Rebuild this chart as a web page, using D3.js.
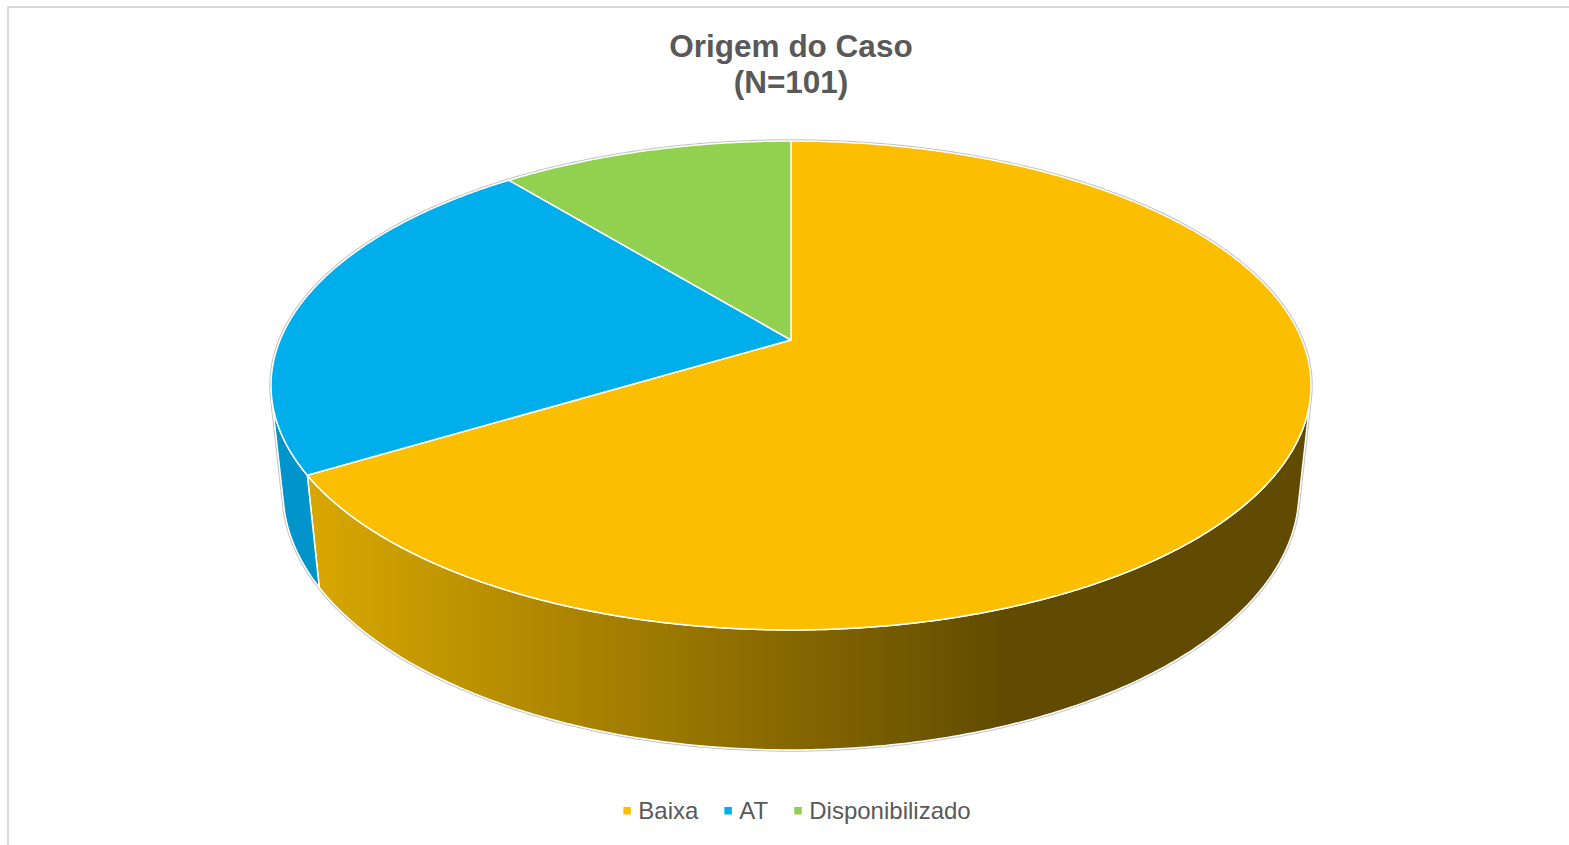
<!DOCTYPE html>
<html>
<head>
<meta charset="utf-8">
<script src="https://cdn.jsdelivr.net/npm/d3@7"></script>
<style>
  html, body { margin: 0; padding: 0; background: #ffffff; }
  svg { display: block; font-family: "Liberation Sans", Arial, sans-serif; }
</style>
</head>
<body>
<svg id="chart" width="1569" height="845"></svg>
<script>
// Origem do Caso — share of cases by origin
const categories = ["Baixa", "AT", "Disponibilizado"];
const values = [67, 23, 11];
const topColors = ["#FBBE00", "#00AEEB", "#92D050"];
const sideColors = ["#D8A700", "#0094CB", "#74A83C"];
const sideDark = "#614B00";
const titleLines = ["Origem do Caso", "(N=" + d3.sum(values) + ")"];

const W = 1569, H = 845;
const svg = d3.select("#chart");

// chart area frame
svg.append("rect")
  .attr("x", 8).attr("y", 7)
  .attr("width", W + 20).attr("height", H + 20)
  .attr("fill", "#ffffff")
  .attr("stroke", "#d9d9d9")
  .attr("stroke-width", 2);

// title
const title = svg.append("text")
  .attr("text-anchor", "middle")
  .attr("fill", "#595959")
  .attr("font-weight", "bold")
  .attr("font-size", 31.5);
titleLines.forEach((line, i) => {
  title.append("tspan").attr("x", 791).attr("y", 57 + i * 36).text(line);
});

// perspective camera looking down on a unit-radius disc
const cam = { cx: 791, cy: 340, F: 2435, D: 4.766, phi: Math.asin(0.4619), depth: 0.2363 };
const sinP = Math.sin(cam.phi), cosP = Math.cos(cam.phi);

function project(a, w, r = 1) {
  const u = r * Math.sin(a), t = -r * Math.cos(a);
  const z = cam.D - t * cosP - w * sinP;
  return [cam.cx + cam.F * u / z, cam.cy + cam.F * (t * sinP - w * cosP) / z];
}
function arcPoints(a0, a1, w) {
  const n = Math.max(2, Math.ceil(Math.abs(a1 - a0) / (Math.PI / 360)));
  return d3.range(n + 1).map(i => project(a0 + (a1 - a0) * i / n, w));
}

const pie = d3.pie().sort(null).value(d => d.value);
const arcs = pie(categories.map((c, i) => ({ name: c, value: values[i], i })));

// visible outer wall range: outward normal facing the camera
const aVis0 = Math.acos(-1 / (cam.D * cosP));
const aVis1 = 2 * Math.PI - aVis0;
const bottomW = -cam.depth;

const line = d3.line();

// gradient on the main wall, light on the left and dark to the right
const defs = svg.append("defs");
const grad = defs.append("linearGradient")
  .attr("id", "wall0")
  .attr("gradientUnits", "userSpaceOnUse")
  .attr("x1", cam.cx - 480).attr("y1", 0)
  .attr("x2", cam.cx + 215).attr("y2", 0);
grad.append("stop").attr("offset", 0).attr("stop-color", sideColors[0]);
grad.append("stop").attr("offset", 1).attr("stop-color", sideDark);

const pieG = svg.append("g");

// soft grey silhouette around the whole disc
const silhouette = arcPoints(aVis0, aVis1 - 2 * Math.PI, 0)
  .concat(arcPoints(aVis1, aVis0, bottomW));
pieG.append("path")
  .attr("d", line(silhouette) + "Z")
  .attr("fill", "none")
  .attr("stroke", "#c4c4c4")
  .attr("stroke-width", 3.5)
  .attr("stroke-linejoin", "round");

// outer walls of the slices
arcs.forEach(d => {
  const a0 = Math.max(d.startAngle, aVis0);
  const a1 = Math.min(d.endAngle, aVis1);
  if (a0 >= a1) return;
  const pts = arcPoints(a0, a1, 0).concat(arcPoints(a1, a0, bottomW));
  pieG.append("path")
    .attr("d", line(pts) + "Z")
    .attr("fill", d.data.i === 0 ? "url(#wall0)" : sideColors[d.data.i])
    .attr("stroke", "#ffffff")
    .attr("stroke-width", 1.5)
    .attr("stroke-linejoin", "round");
});

// top faces
arcs.forEach(d => {
  const pts = [project(0, 0, 0)].concat(arcPoints(d.startAngle, d.endAngle, 0));
  pieG.append("path")
    .attr("d", line(pts) + "Z")
    .attr("fill", topColors[d.data.i])
    .attr("stroke", "#ffffff")
    .attr("stroke-width", 1.5)
    .attr("stroke-linejoin", "round");
});

// legend
const legend = svg.append("g").attr("font-size", 24).attr("fill", "#595959");
let x = 0;
categories.forEach((c, i) => {
  legend.append("rect")
    .attr("x", x).attr("y", 807)
    .attr("width", 7.5).attr("height", 7.5)
    .attr("fill", topColors[i]);
  const t = legend.append("text")
    .attr("x", x + 15).attr("y", 818.5)
    .text(c);
  x += 15 + t.node().getComputedTextLength() + 26;
});
const legendW = x - 26;
legend.attr("transform", `translate(${797 - legendW / 2},0)`);
</script>
</body>
</html>
